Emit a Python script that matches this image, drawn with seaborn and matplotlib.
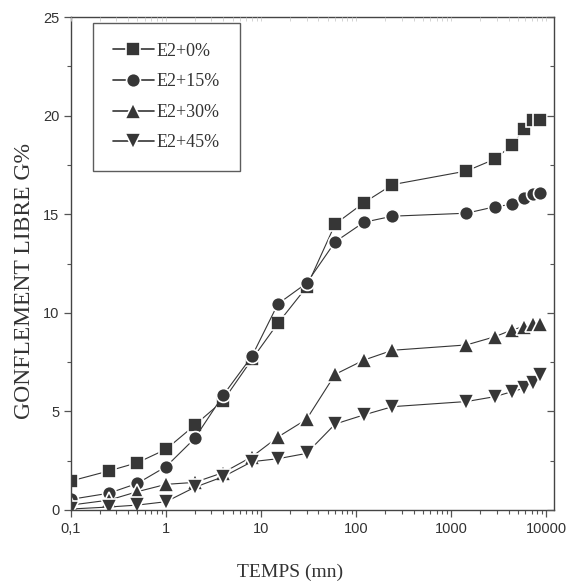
import numpy as np
import pandas as pd
import seaborn as sns
import matplotlib.pyplot as plt
from matplotlib.ticker import FixedLocator, NullFormatter, MultipleLocator

# time in minutes
temps = [0.1, 0.25, 0.5, 1, 2, 4, 8, 15, 30, 60, 120, 240,
         1440, 2880, 4320, 5760, 7200, 8640]

g_e2_0 = [1.47, 1.98, 2.4, 3.08, 4.3, 5.55, 7.64, 9.47, 11.3, 14.5, 15.58, 16.5,
          17.19, 17.8, 18.5, 19.3, 19.78, 19.8]
g_e2_15 = [0.54, 0.85, 1.35, 2.2, 3.63, 5.83, 7.8, 10.45, 11.5, 13.6, 14.59, 14.9,
           15.05, 15.38, 15.5, 15.8, 16.0, 16.1]
g_e2_30 = [0.25, 0.5, 0.93, 1.3, 1.4, 1.9, 2.7, 3.7, 4.6, 6.88, 7.6, 8.1,
           8.37, 8.79, 9.13, 9.3, 9.41, 9.45]
g_e2_45 = [0.05, 0.15, 0.25, 0.42, 1.15, 1.69, 2.45, 2.6, 2.87, 4.36, 4.82, 5.24,
           5.5, 5.75, 6.0, 6.17, 6.42, 6.85]

series = ["E2+0%", "E2+15%", "E2+30%", "E2+45%"]
markers = ["s", "o", "^", "v"]
msizes = [9.5, 10, 12, 12]

x_ticks = [0.1, 1, 10, 100, 1000, 10000]
x_ticklabels = ["0,1", "1", "10", "100", "1000", "10000"]

sns.set_style("ticks")
plt.rcParams["font.family"] = ["Liberation Sans Narrow", "Liberation Sans", "DejaVu Sans"]

fig = plt.figure(figsize=(5.66, 5.87), dpi=100)
ax = fig.add_axes([0.1254, 0.1312, 0.8534, 0.8398])

dark = "#363636"
for name, vals, mk, ms in zip(series, [g_e2_0, g_e2_15, g_e2_30, g_e2_45], markers, msizes):
    d = pd.DataFrame({"temps": temps, "G": vals})
    sns.lineplot(data=d, x="temps", y="G", color=dark, marker=mk, label=name,
                 linewidth=0.8, markersize=ms, markeredgecolor="white",
                 markeredgewidth=1.2, ax=ax, estimator=None, sort=False)

ax.set_xscale("log")
ax.set_xlim(0.1, 12000)
ax.set_ylim(0, 25)

ax.xaxis.set_major_locator(FixedLocator(x_ticks))
ax.set_xticklabels(x_ticklabels)
minors = [m * 10.0 ** e for e in range(-1, 4) for m in range(2, 10)]
ax.xaxis.set_minor_locator(FixedLocator(minors))
ax.xaxis.set_minor_formatter(NullFormatter())
ax.yaxis.set_major_locator(MultipleLocator(5))
ax.yaxis.set_minor_locator(MultipleLocator(2.5))

for side in ["left", "bottom", "right", "top"]:
    ax.spines[side].set_visible(True)
    ax.spines[side].set_color("#444444")
    ax.spines[side].set_linewidth(1.0)

ax.tick_params(axis="both", which="major", direction="out", length=5,
               width=0.9, color="#555555", labelsize=10.5, labelcolor="#333333")
ax.tick_params(axis="both", which="minor", direction="out", length=3,
               width=0.8, color="#555555")

# inward ticks on the right and top sides
axr = ax.twinx()
axr.set_ylim(ax.get_ylim())
axr.yaxis.set_major_locator(MultipleLocator(5))
axr.yaxis.set_minor_locator(MultipleLocator(2.5))
axr.tick_params(axis="y", which="major", direction="in", length=5, width=0.9,
                color="#555555", labelright=False)
axr.tick_params(axis="y", which="minor", direction="in", length=3, width=0.8,
                color="#555555")
axt = ax.twiny()
axt.set_xscale("log")
axt.set_xlim(ax.get_xlim())
axt.xaxis.set_major_locator(FixedLocator(x_ticks))
axt.xaxis.set_minor_locator(FixedLocator(minors))
axt.xaxis.set_minor_formatter(NullFormatter())
axt.tick_params(axis="x", which="both", direction="in", length=3, width=0.6,
                color="#cccccc", labeltop=False)
for a in (axr, axt):
    for side in a.spines:
        a.spines[side].set_visible(False)

serif = ["Liberation Serif", "DejaVu Serif"]
ax.set_xlabel("TEMPS (mn)", family=serif, size=14, color="#333333")
ax.set_ylabel("GONFLEMENT LIBRE G%", family=serif, size=17, color="#333333")
ax.xaxis.set_label_coords(0.453, -0.108)
ax.yaxis.set_label_coords(-0.074, 0.4645)

handles, labels = ax.get_legend_handles_labels()
leg = ax.legend(handles, labels, loc="upper left", bbox_to_anchor=(0.045, 0.988),
                borderaxespad=0, frameon=True, fancybox=False, edgecolor="#333333",
                handlelength=2.3, handletextpad=0.15, labelspacing=0.75,
                borderpad=1.1, prop={"family": serif, "size": 13})
leg.get_frame().set_linewidth(1.0)
for t in leg.get_texts():
    t.set_color("#333333")
for h in leg.legend_handles:
    h.set_linewidth(1.2)

fig.savefig("out.png", dpi=100)
